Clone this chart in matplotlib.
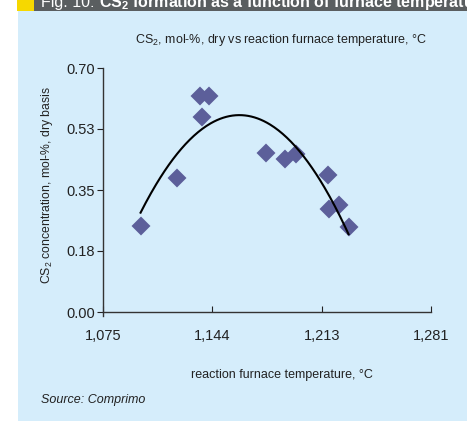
import numpy as np
import matplotlib
matplotlib.use("Agg")
import matplotlib.pyplot as plt
from matplotlib.patches import Rectangle

plt.rcParams['font.family'] = ['Liberation Sans', 'DejaVu Sans']
plt.rcParams['mathtext.fontset'] = 'custom'
plt.rcParams['mathtext.rm'] = 'Liberation Sans'
plt.rcParams['mathtext.it'] = 'Liberation Sans:italic'
plt.rcParams['mathtext.bf'] = 'Liberation Sans:bold'

# Datos
temperatura = [1098.6, 1121.5, 1135.7, 1141.6, 1137.4, 1177.5,
               1189.6, 1196.3, 1216.1, 1217.1, 1223.4, 1229.2]
cs2 = [0.247, 0.385, 0.620, 0.620, 0.560, 0.457,
       0.438, 0.453, 0.394, 0.295, 0.306, 0.244]
x_ticks = [1075, 1144, 1213, 1281]
y_ticks = [0.00, 0.18, 0.35, 0.53, 0.70]

W, H = 467, 422
fig = plt.figure(figsize=(W / 100, H / 100), dpi=100)
fig.patch.set_facecolor("white")

# Fondo azul y cabecera
fig.patches.append(Rectangle((18 / W, 1 - 421 / H), (W - 18) / W, (421 - 11) / H,
                             transform=fig.transFigure, facecolor="#d5edfb",
                             edgecolor="none", zorder=-10))
header = Rectangle((34 / W, 1 - 11 / H), (W - 34) / W, 11 / H,
                   transform=fig.transFigure, facecolor="#5a5e60",
                   edgecolor="none", zorder=-10)
fig.patches.append(header)
fig.patches.append(Rectangle((17 / W, 1 - 11 / H), 17 / W, 11 / H,
                             transform=fig.transFigure, facecolor="#f6d800",
                             edgecolor="none", zorder=-10))
t1 = fig.text(41 / W, 1 - 6.5 / H, "Fig. 10: ", color="white", fontsize=11.5,
              ha="left", va="baseline")
r = fig.canvas.get_renderer()
bb = t1.get_window_extent(r)
t2 = fig.text(bb.x1 / W, 1 - 6.5 / H, "CS$_\\mathbf{2}$ formation as a function of furnace temperature",
              color="white", fontsize=11.5, fontweight="bold", ha="left", va="baseline")
t1.set_clip_path(header)
t2.set_clip_path(header)

ax = fig.add_axes([103 / W, 1 - 312 / H, (431 - 103) / W, (312 - 68) / H])
ax.set_facecolor("none")

# Linea de tendencia polinomica (orden 2)
coef = np.polyfit(temperatura, cs2, 2)
xs = np.linspace(min(temperatura), max(temperatura), 200)
ax.plot(xs, np.polyval(coef, xs), color="black", lw=1.5, zorder=3)

ax.plot(temperatura, cs2, linestyle="none", marker="D", markersize=8,
        color="#5c5f9a", markeredgecolor="#5c5f9a", markeredgewidth=1.5,
        zorder=2)
for ln in ax.lines[-1:]:
    ln.set_solid_joinstyle("round")

ax.set_xlim(1075, 1281)
ax.set_ylim(0, 0.70)
ax.set_xticks(np.linspace(1075, 1281, 4))
ax.set_xticklabels([f"{v:,}" for v in x_ticks])
ax.set_yticks(np.linspace(0, 0.70, 5))
ax.set_yticklabels([f"{v:.2f}" for v in y_ticks])
ax.tick_params(axis="x", direction="in", length=4, pad=12, labelsize=10.5, colors="#222222")
ax.tick_params(axis="y", direction="out", length=4, pad=2, labelsize=10.5, colors="#222222")
for s in ["top", "right"]:
    ax.spines[s].set_visible(False)
for s in ["left", "bottom"]:
    ax.spines[s].set_color("#333333")
    ax.spines[s].set_linewidth(1)
ax.spines["left"].set_bounds(-0.0115, 0.70)

fig.text(281 / W, 1 - 40 / H, "CS$_2$, mol-%, dry vs reaction furnace temperature, °C",
         ha="center", va="center", fontsize=9, color="#222222")
fig.text(282 / W, 1 - 375 / H, "reaction furnace temperature, °C",
         ha="center", va="center", fontsize=9, color="#222222")
fig.text(47 / W, 1 - 185 / H, "CS$_2$ concentration, mol-%, dry basis",
         ha="center", va="center", rotation=90, fontsize=8.8, color="#222222")
fig.text(41 / W, 1 - 400 / H, "Source: Comprimo", ha="left", va="center",
         fontsize=9, style="italic", color="#222222")

fig.savefig("out.png", dpi=100)
